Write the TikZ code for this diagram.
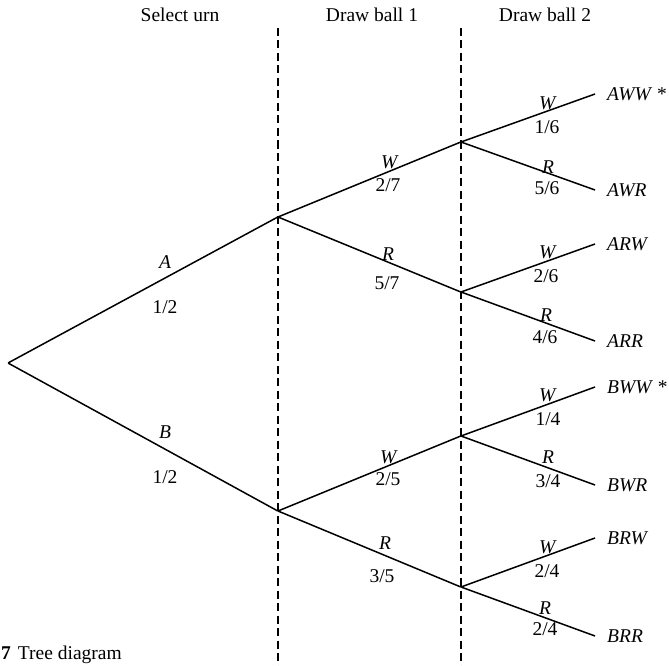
\documentclass[tikz,border=0pt]{standalone}
\usepackage{fontspec}
\setmainfont{Liberation Serif}

\begin{document}
\begin{tikzpicture}
  [x=1pt,y=-1pt,
   every node/.style={font=\fontsize{19.5}{22}\selectfont},
   pt/.style={inner sep=0pt,minimum size=0pt},
   leaf/.style={anchor=west,inner xsep=12pt,inner ysep=0pt},
   branch/.style={line width=1.5pt},
   divider/.style={line width=1.3pt,dash pattern=on 8pt off 4.5pt}]
  \useasboundingbox (0,0) rectangle (669,666);

  % stage headings
  \node (h1) at (180,15) {Select urn};
  \node (h2) at (372,15) {Draw ball 1};
  \node (h3) at (545,15) {Draw ball 2};

  % stage dividers
  \coordinate (d1t) at (278,28);
  \coordinate (d1b) at (278,666);
  \coordinate (d2t) at (461,28);
  \coordinate (d2b) at (461,666);
  \draw[divider] (d1t) -- (d1b);
  \draw[divider] (d2t) -- (d2b);

  % tree points
  \node[pt] (r)  at (8,363)   {};
  \node[pt] (a)  at (278,217) {};
  \node[pt] (b)  at (278,511) {};
  \node[pt] (aw) at (461,142) {};
  \node[pt] (ar) at (461,292) {};
  \node[pt] (bw) at (461,436) {};
  \node[pt] (br) at (461,587) {};

  % outcomes
  \node[leaf] (aww) at (595,94)  {\textit{AWW} *};
  \node[leaf] (awr) at (595,190) {\textit{AWR}};
  \node[leaf] (arw) at (595,244) {\textit{ARW}};
  \node[leaf] (arr) at (595,341) {\textit{ARR}};
  \node[leaf] (bww) at (595,387) {\textit{BWW} *};
  \node[leaf] (bwr) at (595,485) {\textit{BWR}};
  \node[leaf] (brw) at (595,538) {\textit{BRW}};
  \node[leaf] (brr) at (595,636) {\textit{BRR}};

  \foreach \from/\to in {r/a,r/b,a/aw,a/ar,b/bw,b/br,
                         aw/aww,aw/awr,ar/arw,ar/arr,
                         bw/bww,bw/bwr,br/brw,br/brr}
    \draw[branch] (\from) -- (\to.west);

  % branch letters
  \foreach \n/\x/\y/\t in {a/165/262/A,b/165/432/B,
                           aw/390/162/W,ar/388/254/R,bw/389/457/W,br/385/543/R,
                           aww/548/103/W,awr/548/167/R,arw/548/252/W,arr/546/315/R,
                           bww/548/395/W,bwr/548/457/R,brw/548/547/W,brr/545/608/R}
    \node (l\n) at (\x,\y) {\textit{\t}};

  % branch probabilities
  \foreach \n/\x/\y/\t in {a/165/307/{1/2},b/165/477/{1/2},
                           aw/388/185/{2/7},ar/387/283/{5/7},bw/388/479/{2/5},br/382/576/{3/5},
                           aww/547/127/{1/6},awr/547/188/{5/6},arw/546/276/{2/6},arr/545/337/{4/6},
                           bww/548/419/{1/4},bwr/548/481/{3/4},brw/547/571/{2/4},brr/545/629/{2/4}}
    \node (p\n) at (\x,\y) {\t};

  % caption
  \node[anchor=base west,inner sep=0pt] (cap) at (1,659) {\textbf{7}\hspace{7pt}Tree diagram};
\end{tikzpicture}
\end{document}
